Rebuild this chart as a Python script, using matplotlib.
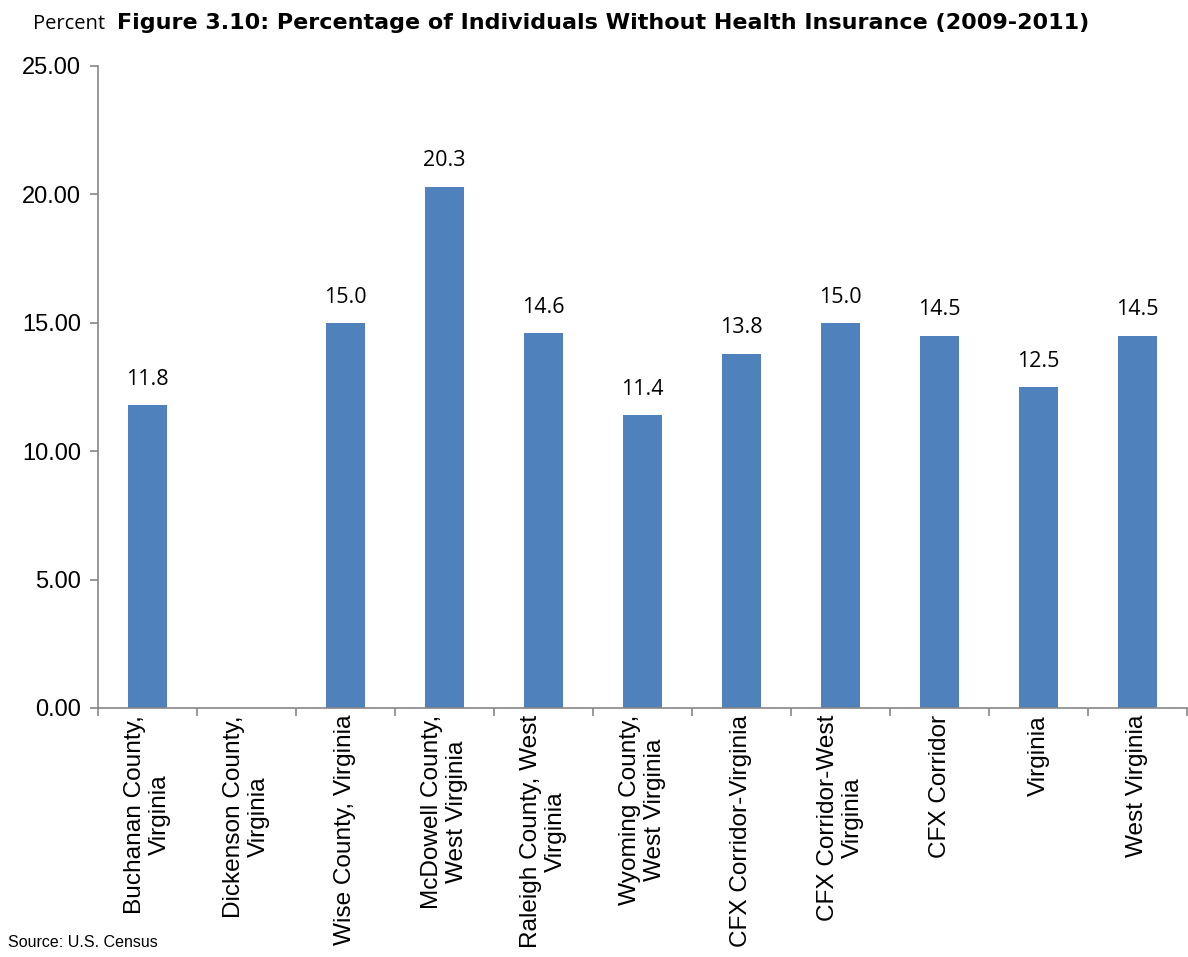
import numpy as np
import matplotlib
matplotlib.use("Agg")
import matplotlib.pyplot as plt
from matplotlib.ticker import FixedLocator, FormatStrFormatter

categories = [
    "Buchanan County,\nVirginia",
    "Dickenson County,\nVirginia",
    "Wise County, Virginia",
    "McDowell County,\nWest Virginia",
    "Raleigh County, West\nVirginia",
    "Wyoming County,\nWest Virginia",
    "CFX Corridor-Virginia",
    "CFX Corridor-West\nVirginia",
    "CFX Corridor",
    "Virginia",
    "West Virginia",
]
# no figure published for Dickenson County
uninsured_pct = [11.8, np.nan, 15.0, 20.3, 14.6, 11.4, 13.8, 15.0, 14.5, 12.5, 14.5]
y_ticks = [0, 5, 10, 15, 20, 25]

bar_color = "#4F81BD"
axis_color = "#868686"

fig = plt.figure(figsize=(11.88, 9.57), dpi=100)
ax = fig.add_axes([98 / 1188, 1 - 708 / 957, (1187 - 98) / 1188, (708 - 66) / 957])

x = np.arange(len(categories))
ax.bar(x, uninsured_pct, width=0.4, color=bar_color)

for xi, val in zip(x, uninsured_pct):
    if np.isnan(val):
        continue
    ax.annotate(f"{val:.1f}", (xi, val), xytext=(0, 11), textcoords="offset points",
                ha="center", va="bottom", fontsize=15.5, family="Open Sans")

ax.set_xlim(-0.5, len(categories) - 0.5)
ax.set_ylim(0, 25)
ax.set_yticks(y_ticks)
ax.yaxis.set_major_formatter(FormatStrFormatter("%.2f"))

ax.set_xticks(x)
ax.set_xticklabels(categories, rotation=90, ha="center", va="top",
                   multialignment="center", fontsize=17.6, family="Liberation Sans")
ax.xaxis.set_minor_locator(FixedLocator(np.arange(-0.5, len(categories), 1.0)))
ax.tick_params(axis="x", which="major", length=0, pad=5)
ax.tick_params(axis="x", which="minor", length=6, width=1.2, color=axis_color, direction="out")
ax.tick_params(axis="y", length=6, width=1.2, color=axis_color, direction="out", pad=6,
               labelsize=17)
for lbl in ax.get_yticklabels():
    lbl.set_family("Liberation Sans")

for side in ("top", "right"):
    ax.spines[side].set_visible(False)
for side in ("left", "bottom"):
    ax.spines[side].set_color(axis_color)
    ax.spines[side].set_linewidth(1.2)

fig.text(117 / 1188, 1 - 29 / 957,
         "Figure 3.10: Percentage of Individuals Without Health Insurance (2009-2011)",
         fontsize=16, fontweight="bold", family="DejaVu Sans", ha="left", va="baseline")
fig.text(33 / 1188, 1 - 29 / 957, "Percent", fontsize=14.5, family="Open Sans",
         ha="left", va="baseline")
fig.text(8 / 1188, 1 - 947 / 957, "Source: U.S. Census", fontsize=11.5,
         family="Liberation Sans", ha="left", va="baseline")

fig.savefig("out.png", dpi=100)
